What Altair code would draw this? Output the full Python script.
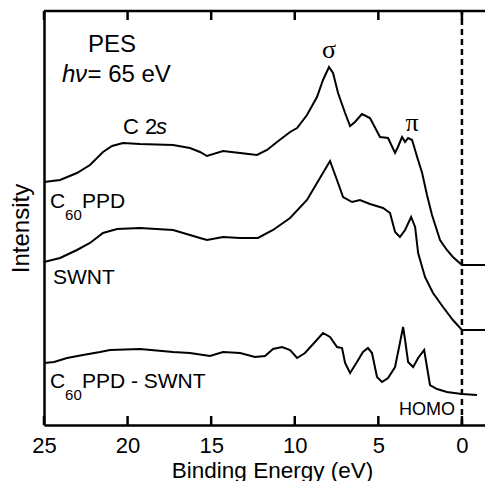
import altair as alt
import pandas as pd

# ---- data (binding energy in eV, intensity in arbitrary offset units) ----
c60ppd_ev = [25.0, 24.04, 23.03, 22.25, 21.47, 20.93, 20.27, 19.26, 17.28, 16.27, 15.67, 15.25,
             14.29, 13.27, 12.26, 11.66, 11.06, 10.28, 9.86, 9.27, 8.67, 8.31, 7.95, 7.71, 7.41,
             6.99, 6.69, 6.40, 5.98, 5.50, 4.90, 4.42, 4.00, 3.83, 3.58, 3.40, 3.22, 2.98, 2.68,
             2.38, 2.09, 1.79, 1.31, 0.90, 0.54, 0.0, -1.38]
c60ppd_int = [243, 245, 252, 260, 273, 279, 282, 281, 280, 277, 273, 269,
              274, 272, 270, 275, 283, 293, 297, 310, 328, 345, 358, 352, 332,
              312, 299, 303, 311, 307, 288, 287, 272, 278, 288, 283, 287, 285, 268,
              252, 230, 210, 185, 175, 168, 160, 160]

swnt_ev = [25.0, 24.04, 23.03, 22.25, 21.47, 20.63, 19.26, 17.28, 16.27, 15.67, 15.25, 14.29,
           13.27, 12.20, 11.30, 10.28, 9.27, 8.67, 7.89, 7.41, 7.11, 6.57, 6.10, 5.50, 4.72,
           4.30, 4.00, 3.71, 3.40, 3.04, 2.80, 2.62, 2.21, 1.73, 1.13, 0.54, 0.0, -1.38]
swnt_int = [163, 167, 175, 182, 192, 196, 197, 195, 190, 187, 185, 188,
            187, 187, 195, 207, 225, 242, 264, 242, 228, 223, 225, 221, 217,
            212, 193, 188, 195, 208, 198, 172, 148, 132, 118, 105, 95, 95]

diff_ev = [25.0, 24.40, 23.62, 22.67, 21.65, 21.05, 19.26, 17.28, 16.27, 15.07, 14.29, 13.27,
           12.38, 11.78, 11.30, 10.76, 10.28, 9.86, 9.39, 8.79, 8.31, 7.89, 7.47, 7.17, 6.99,
           6.69, 6.28, 5.92, 5.62, 5.38, 5.08, 4.78, 4.42, 4.00, 3.71, 3.52, 3.40, 3.22, 2.92,
           2.62, 2.26, 2.09, 1.91, 1.49, 0.90, 0.0, -0.90]
diff_int = [62, 63, 67, 70, 73, 75, 76, 73, 72, 69, 73, 72,
            68, 69, 76, 78, 75, 67, 72, 83, 92, 88, 78, 77, 62,
            52, 63, 73, 77, 72, 48, 43, 47, 58, 82, 98, 85, 63, 58,
            67, 75, 58, 40, 36, 33, 31, 30]

tick_values = [25, 20, 15, 10, 5, 0]

X_MIN, X_MAX = -1.38, 25.0
Y_MIN, Y_MAX = 0, 414
TICK_LEN = 9

xscale = alt.Scale(domain=[X_MIN, X_MAX], reverse=True, nice=False, zero=False)
yscale = alt.Scale(domain=[Y_MIN, Y_MAX], nice=False, zero=False)

FONT = "Liberation Sans"

x_axis = alt.Axis(values=tick_values, format="d", grid=False, ticks=False,
                  labelFlush=False, labelFontSize=22, labelFont=FONT,
                  labelColor="black", labelPadding=10,
                  domainColor="black", domainWidth=2.5,
                  title="Binding Energy (eV)", titleFont=FONT,
                  titleFontSize=22.5, titleFontWeight="normal",
                  titleColor="black", titleBaseline="alphabetic",
                  titleAlign="center", titleX=228, titleY=52)
y_axis = alt.Axis(labels=False, ticks=False, grid=False,
                  domainColor="black", domainWidth=2.5,
                  title="Intensity", titleFont=FONT, titleFontSize=24,
                  titleFontWeight="normal", titleColor="black",
                  titleAngle=270, titleAlign="center", titleBaseline="alphabetic",
                  titleX=-16, titleY=217)

curve_layers = []
for n, (xs, ys) in enumerate([(c60ppd_ev, c60ppd_int), (swnt_ev, swnt_int), (diff_ev, diff_int)]):
    d = pd.DataFrame({"ev": xs, "intensity": ys})
    if n == 0:
        enc_x = alt.X("ev:Q", scale=xscale, axis=x_axis)
        enc_y = alt.Y("intensity:Q", scale=yscale, axis=y_axis)
    else:
        enc_x = alt.X("ev:Q", scale=xscale)
        enc_y = alt.Y("intensity:Q", scale=yscale)
    curve_layers.append(alt.Chart(d).mark_line(color="black", strokeWidth=2).encode(x=enc_x, y=enc_y))

# frame segments built exactly like the curve layers (two-point lines)
segments = [([X_MAX, X_MIN], [Y_MAX, Y_MAX])]
for t in tick_values:
    segments.append(([t, t], [Y_MIN, Y_MIN + TICK_LEN]))
    segments.append(([t, t], [Y_MAX - TICK_LEN, Y_MAX]))
frame_layers = []
for xs, ys in segments:
    d = pd.DataFrame({"ev": xs, "intensity": ys})
    frame_layers.append(
        alt.Chart(d).mark_line(color="black", strokeWidth=2.5).encode(
            x=alt.X("ev:Q", scale=xscale), y=alt.Y("intensity:Q", scale=yscale))
    )

# dashed zero line
zero_df = pd.DataFrame({"zx": [0], "zy": [Y_MIN], "zy2": [Y_MAX]})
zero_line = alt.Chart(zero_df).mark_rule(color="black", strokeWidth=2.5, strokeDash=[6, 4]).encode(
    x=alt.X("zx:Q", scale=xscale), y=alt.Y("zy:Q", scale=yscale), y2="zy2:Q")

# annotations: text, x(eV), y(intensity), size, font, style, align
ann_text = ["PES", "h", "\u03bd", "= 65 eV", "C 2", "s", "\u03c3", "\u03c0",
            "C", "60", "PPD", "SWNT", "C", "60", "PPD - SWNT", "HOMO"]
ann_x = [20.93, 23.92, 23.15, 22.40, 20.27, 18.30, 7.95, 2.98,
         24.64, 23.74, 22.73, 24.46, 24.64, 23.74, 22.73, 2.09]
ann_y = [380, 350, 350, 350, 298, 298, 375, 302,
         223, 210, 223, 147, 43, 30, 43, 15]
ann_size = [24, 24, 24, 24, 22, 22, 26, 26,
            21, 15, 21, 21, 21, 15, 21, 18]
ann_font = ["sans", "sans", "sans", "sans", "sans", "sans", "serif", "serif",
            "sans", "sans", "sans", "sans", "sans", "sans", "sans", "sans"]
ann_style = ["normal", "italic", "italic", "normal", "normal", "italic", "normal", "normal",
             "normal", "normal", "normal", "normal", "normal", "normal", "normal", "normal"]
ann_align = ["center", "left", "left", "left", "left", "left", "center", "center",
             "left", "left", "left", "left", "left", "left", "left", "center"]

texts = []
for t, x, y, s, f, st, al in zip(ann_text, ann_x, ann_y, ann_size, ann_font, ann_style, ann_align):
    d = pd.DataFrame({"label": [t], "ax": [x], "ay": [y]})
    texts.append(
        alt.Chart(d).mark_text(
            align=al, baseline="middle", fontSize=s,
            font=("Liberation Serif" if f == "serif" else FONT),
            fontStyle=st, color="black",
        ).encode(x=alt.X("ax:Q", scale=xscale), y=alt.Y("ay:Q", scale=yscale), text="label:N")
    )

chart = alt.layer(*curve_layers, *frame_layers, zero_line, *texts).properties(
    width=441, height=414,
    autosize=alt.AutoSizeParams(type="none"),
    padding={"left": 36, "top": 3, "right": 0, "bottom": 56},
).configure_view(stroke=None)

chart.save("out.html", embed_options={"renderer": "svg", "actions": False})
